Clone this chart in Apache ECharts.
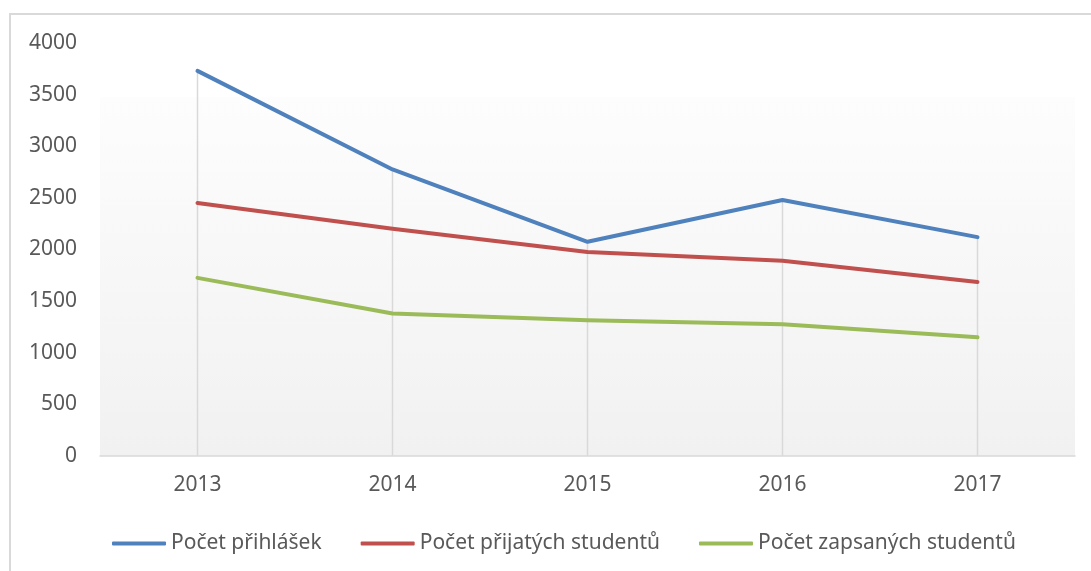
<!DOCTYPE html>
<html>
<head>
<meta charset="utf-8">
<script src="https://cdn.jsdelivr.net/npm/echarts@6/dist/echarts.min.js"></script>
<style>
html,body{margin:0;padding:0;background:#fff;}
#main{width:1091px;height:571px;}
</style>
</head>
<body>
<div id="main"></div>
<script>
var categories = ['2013', '2014', '2015', '2016', '2017'];
var prihlasek = [3730, 2775, 2075, 2480, 2120];
var prijatych = [2450, 2200, 1975, 1890, 1685];
var zapsanych = [1725, 1380, 1315, 1275, 1150];
var seriesNames = ['Počet přihlášek', 'Počet přijatých studentů', 'Počet zapsaných studentů'];
var yTicks = { min: 0, max: 4000, interval: 500 };

var chart = echarts.init(document.getElementById('main'));
var font = '"Noto Sans", "Open Sans", sans-serif';
var lineStyleBase = { width: 4, cap: 'round', join: 'round' };
chart.setOption({
  animation: false,
  graphic: [{
    type: 'rect',
    shape: { x: 10, y: 14, width: 1200, height: 700 },
    style: { fill: 'none', stroke: '#d9d9d9', lineWidth: 2 },
    z: -10,
    silent: true
  }],
  grid: {
    left: 100, right: 16, top: 43, bottom: 115,
    show: true, borderWidth: 0,
    backgroundColor: {
      type: 'linear', x: 0, y: 0, x2: 0, y2: 1,
      colorStops: [
        { offset: 0, color: '#ffffff' },
        { offset: 0.13, color: '#ffffff' },
        { offset: 0.131, color: '#fdfdfd' },
        { offset: 1, color: '#f1f1f1' }
      ]
    }
  },
  legend: {
    data: seriesNames,
    left: 107, top: 528,
    icon: 'roundRect',
    itemWidth: 54, itemHeight: 4,
    itemGap: 39,
    textStyle: { fontFamily: font, fontSize: 21, color: '#595959' }
  },
  xAxis: {
    type: 'category',
    data: categories,
    boundaryGap: true,
    axisLine: { lineStyle: { color: '#d9d9d9', width: 1.5 } },
    axisTick: { show: false },
    splitLine: { show: false },
    axisLabel: { margin: 19, fontFamily: font, fontSize: 21, color: '#595959' }
  },
  yAxis: {
    type: 'value',
    min: yTicks.min, max: yTicks.max, interval: yTicks.interval,
    axisLine: { show: false },
    axisTick: { show: false },
    splitLine: { show: false },
    axisLabel: {
      margin: 23, fontFamily: font, fontSize: 21, color: '#595959',
      formatter: function (v) { return String(v); }
    }
  },
  series: [
    {
      name: 'drop', type: 'bar', data: prihlasek, barWidth: 1.5,
      itemStyle: { color: '#d9d9d9' }, silent: true, z: 1
    },
    {
      name: seriesNames[0], type: 'line', data: prihlasek, showSymbol: false, symbol: 'none',
      itemStyle: { color: '#4f81bd' }, lineStyle: Object.assign({ color: '#4f81bd' }, lineStyleBase), z: 3
    },
    {
      name: seriesNames[1], type: 'line', data: prijatych, showSymbol: false, symbol: 'none',
      itemStyle: { color: '#c0504d' }, lineStyle: Object.assign({ color: '#c0504d' }, lineStyleBase), z: 3
    },
    {
      name: seriesNames[2], type: 'line', data: zapsanych, showSymbol: false, symbol: 'none',
      itemStyle: { color: '#9bbb59' }, lineStyle: Object.assign({ color: '#9bbb59' }, lineStyleBase), z: 3
    }
  ]
});
</script>
</body>
</html>
